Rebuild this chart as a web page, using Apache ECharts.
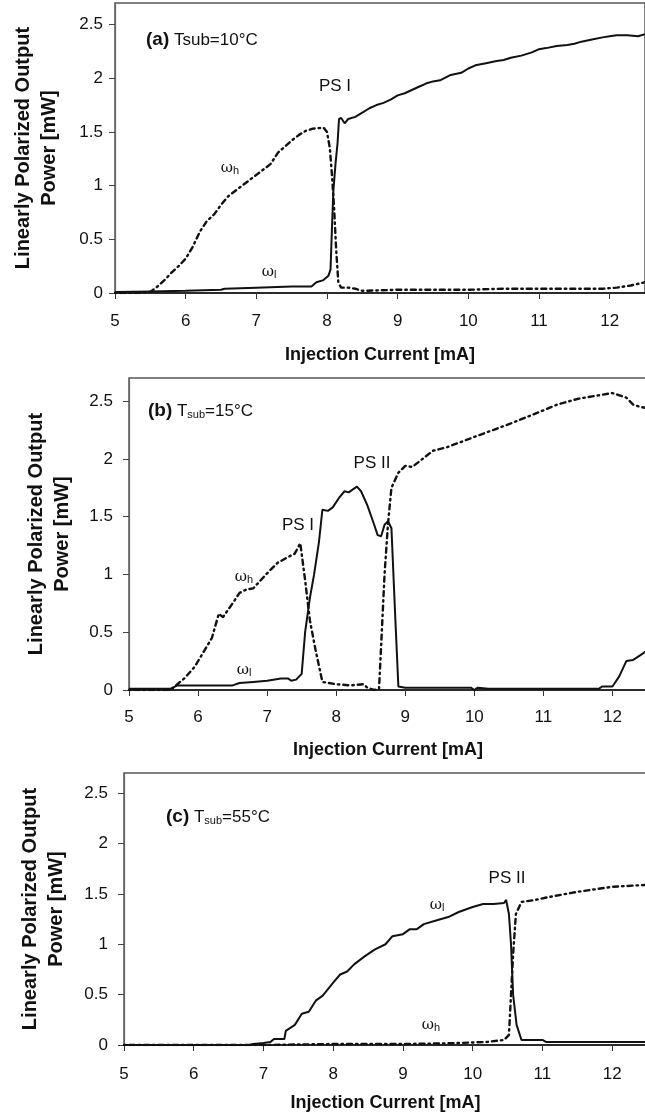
<!DOCTYPE html>
<html>
<head>
<meta charset="utf-8">
<script src="https://cdn.jsdelivr.net/npm/echarts@6/dist/echarts.min.js"></script>
<style>html,body{margin:0;padding:0;background:#fff;}#c{width:645px;height:1119px;}</style>
</head>
<body>
<div id="c"></div>
<script>
// ---- data ----
const xTicks = [5, 6, 7, 8, 9, 10, 11, 12];
const yTicks = [0, 0.5, 1, 1.5, 2, 2.5];
const xTitle = 'Injection Current [mA]';
const yTitle = 'Linearly Polarized Output\nPower [mW]';

// Panel (a) Tsub=10°C
const aOmegaL = [[5.0,0.01],[5.5,0.015],[6.0,0.02],[6.5,0.03],[6.55,0.04],[7.0,0.05],[7.5,0.06],[7.78,0.06],[7.85,0.1],[7.95,0.12],[8.02,0.16],[8.05,0.22],[8.07,0.6],[8.09,0.95],[8.12,1.2],[8.15,1.4],[8.17,1.62],[8.2,1.63],[8.25,1.58],[8.3,1.62],[8.4,1.64],[8.5,1.68],[8.6,1.72],[8.7,1.75],[8.8,1.77],[8.9,1.8],[9.0,1.84],[9.1,1.86],[9.2,1.89],[9.3,1.92],[9.4,1.95],[9.5,1.97],[9.6,1.98],[9.75,2.03],[9.9,2.05],[10.0,2.09],[10.1,2.12],[10.25,2.14],[10.4,2.16],[10.5,2.17],[10.6,2.19],[10.75,2.21],[10.9,2.24],[11.0,2.27],[11.1,2.28],[11.25,2.3],[11.4,2.31],[11.5,2.32],[11.6,2.34],[11.75,2.36],[11.9,2.38],[12.0,2.39],[12.1,2.4],[12.25,2.4],[12.4,2.39],[12.5,2.41]];
const aOmegaH = [[5.0,0.0],[5.3,0.0],[5.5,0.01],[5.6,0.06],[5.7,0.12],[5.8,0.19],[5.9,0.25],[6.0,0.32],[6.1,0.43],[6.2,0.57],[6.3,0.67],[6.4,0.73],[6.5,0.82],[6.6,0.9],[6.7,0.95],[6.8,1.0],[6.9,1.05],[7.0,1.1],[7.1,1.15],[7.2,1.2],[7.31,1.31],[7.4,1.36],[7.5,1.42],[7.6,1.47],[7.7,1.51],[7.8,1.53],[7.95,1.54],[8.0,1.5],[8.04,1.35],[8.07,1.1],[8.1,0.8],[8.13,0.4],[8.16,0.1],[8.2,0.05],[8.3,0.05],[8.4,0.04],[8.5,0.02],[9.0,0.03],[9.5,0.03],[10.0,0.03],[10.5,0.04],[11.0,0.04],[11.5,0.04],[11.9,0.04],[12.1,0.05],[12.3,0.07],[12.5,0.1]];

// Panel (b) Tsub=15°C
const bOmegaL = [[5.0,0.01],[5.6,0.01],[5.7,0.04],[6.0,0.04],[6.5,0.04],[6.6,0.06],[6.8,0.07],[7.0,0.08],[7.2,0.1],[7.3,0.1],[7.35,0.08],[7.42,0.09],[7.5,0.14],[7.55,0.5],[7.62,0.8],[7.68,1.0],[7.75,1.28],[7.8,1.56],[7.88,1.55],[7.95,1.58],[8.05,1.67],[8.12,1.72],[8.18,1.71],[8.3,1.76],[8.36,1.72],[8.45,1.6],[8.55,1.43],[8.6,1.34],[8.65,1.33],[8.7,1.43],[8.75,1.46],[8.8,1.4],[8.85,0.7],[8.9,0.03],[9.0,0.02],[9.5,0.02],[9.95,0.02],[10.0,0.0],[10.05,0.02],[10.2,0.01],[11.0,0.01],[11.8,0.01],[11.85,0.03],[12.0,0.03],[12.1,0.12],[12.2,0.25],[12.3,0.26],[12.4,0.3],[12.5,0.34]];
const bOmegaH = [[5.0,0.0],[5.6,0.0],[5.7,0.05],[5.8,0.1],[5.95,0.2],[6.1,0.35],[6.2,0.45],[6.3,0.66],[6.36,0.63],[6.5,0.75],[6.6,0.84],[6.7,0.87],[6.8,0.88],[7.0,1.01],[7.15,1.1],[7.3,1.15],[7.4,1.18],[7.48,1.27],[7.55,0.95],[7.62,0.6],[7.7,0.35],[7.8,0.07],[8.0,0.05],[8.2,0.04],[8.4,0.05],[8.45,0.02],[8.55,0.0],[8.62,0.01],[8.66,0.5],[8.7,1.0],[8.75,1.44],[8.8,1.75],[8.9,1.88],[9.0,1.94],[9.1,1.93],[9.25,2.0],[9.4,2.07],[9.6,2.1],[10.0,2.19],[10.5,2.3],[11.0,2.42],[11.2,2.47],[11.5,2.52],[11.8,2.55],[12.0,2.57],[12.2,2.53],[12.3,2.47],[12.4,2.45],[12.5,2.44]];

// Panel (c) Tsub=55°C
const cOmegaL = [[5.0,0.0],[6.8,0.0],[6.85,0.01],[7.0,0.02],[7.1,0.03],[7.15,0.06],[7.3,0.06],[7.32,0.14],[7.45,0.2],[7.55,0.31],[7.65,0.33],[7.75,0.44],[7.85,0.49],[8.0,0.62],[8.1,0.7],[8.2,0.73],[8.3,0.8],[8.45,0.88],[8.6,0.95],[8.75,1.0],[8.85,1.08],[9.0,1.1],[9.1,1.15],[9.2,1.15],[9.3,1.2],[9.5,1.24],[9.65,1.27],[9.8,1.32],[10.0,1.37],[10.15,1.4],[10.3,1.4],[10.45,1.41],[10.48,1.44],[10.52,1.3],[10.55,1.0],[10.58,0.5],[10.63,0.2],[10.7,0.05],[11.0,0.05],[11.05,0.03],[12.5,0.03]];
const cOmegaH = [[5.0,0.0],[7.0,0.0],[8.0,0.01],[9.0,0.01],[9.5,0.015],[9.8,0.02],[10.2,0.03],[10.45,0.05],[10.52,0.1],[10.55,0.5],[10.58,0.9],[10.62,1.3],[10.7,1.42],[10.9,1.44],[11.1,1.47],[11.5,1.52],[12.0,1.57],[12.5,1.59]];

const panelLabels = ['(a)', '(b)', '(c)'];
const panelTemps = ['10°C', '15°C', '55°C'];

// ---- layout / style ----
const FONT = '"Liberation Sans", Arial, Helvetica, sans-serif';
const grids = [
  {left: 115, top: 3,   width: 530, height: 290},
  {left: 129, top: 378, width: 518, height: 312},
  {left: 124, top: 773, width: 523, height: 272}
];
const xNameGap = [53, 51, 49];
const xLabelMargin = [20, 19, 21];
const yNameGap = [53, 54, 55];
const yLabelMargin = [12, 16, 16];

function xAxisFor(i) {
  return {
    type: 'value', gridIndex: i, min: xTicks[0], max: 12.5, interval: 1,
    name: xTitle, nameLocation: 'middle', nameGap: xNameGap[i],
    nameTextStyle: {fontFamily: FONT, fontWeight: 'bold', fontSize: 18, color: '#111'},
    axisLine: {show: true, onZero: false, lineStyle: {color: '#111', width: 1.5}},
    axisTick: {show: true, inside: false, length: 6, lineStyle: {color: '#333'}},
    axisLabel: {fontFamily: FONT, fontSize: 17, color: '#111', margin: xLabelMargin[i],
      showMaxLabel: false},
    splitLine: {show: false}
  };
}
function yAxisFor(i) {
  return {
    type: 'value', gridIndex: i, min: 0, max: 2.7, interval: 0.5,
    name: yTitle, nameLocation: 'middle', nameGap: yNameGap[i], nameRotate: 90,
    nameTextStyle: {fontFamily: FONT, fontWeight: 'bold', fontSize: 20, lineHeight: 26, color: '#111'},
    axisLine: {show: true, lineStyle: {color: '#666', width: 1.2}},
    axisTick: {show: true, inside: false, length: 6, lineStyle: {color: '#444'}},
    axisLabel: {fontFamily: FONT, fontSize: 17, color: '#111', margin: yLabelMargin[i],
      showMaxLabel: false},
    splitLine: {show: false}
  };
}
const solid = {color: '#111', width: 2, type: 'solid'};
const dotted = {color: '#111', width: 2.4, type: [1.5, 4, 5, 4], cap: 'round'};

function lineSeries(name, i, data, style) {
  return {name: name, type: 'line', xAxisIndex: i, yAxisIndex: i, data: data,
    showSymbol: false, symbol: 'none', lineStyle: style, animation: false, z: 3};
}

const series = [
  lineSeries('ωh (a)', 0, aOmegaH, dotted), lineSeries('ωl (a)', 0, aOmegaL, solid),
  lineSeries('ωh (b)', 1, bOmegaH, dotted), lineSeries('ωl (b)', 1, bOmegaL, solid),
  lineSeries('ωh (c)', 2, cOmegaH, dotted), lineSeries('ωl (c)', 2, cOmegaL, solid)
];

const rich = {
  p: {fontFamily: FONT, fontWeight: 'bold', fontSize: 19, fill: '#111'},
  t: {fontFamily: FONT, fontSize: 17, fill: '#111'},
  s: {fontFamily: FONT, fontSize: 11, fill: '#111', padding: [8, 0, 0, 0]},
  w: {fontFamily: '"DejaVu Serif", serif', fontSize: 15, fill: '#111'},
  ws: {fontFamily: FONT, fontSize: 11, fill: '#111', padding: [6, 0, 0, 0]}
};
function txt(x, y, text, opts) {
  return {type: 'text', x: x, y: y, z: 10,
    style: Object.assign({text: text, rich: rich, fontFamily: FONT, fontSize: 17, fill: '#111',
      textAlign: 'center', textVerticalAlign: 'middle'}, opts || {})};
}
const graphics = [
  txt(146, 40, '{p|' + panelLabels[0] + '} {t|Tsub=' + panelTemps[0] + '}', {textAlign: 'left'}),
  txt(148, 411, '{p|' + panelLabels[1] + '} {t|T}{s|sub}{t|=' + panelTemps[1] + '}', {textAlign: 'left'}),
  txt(166, 817, '{p|' + panelLabels[2] + '} {t|T}{s|sub}{t|=' + panelTemps[2] + '}', {textAlign: 'left'}),
  txt(335, 86, 'PS I'),
  txt(230, 168, '{w|ω}{ws|h}'),
  txt(269, 272, '{w|ω}{ws|l}'),
  txt(372, 463, 'PS II'),
  txt(298, 525, 'PS I'),
  txt(244, 577, '{w|ω}{ws|h}'),
  txt(244, 670, '{w|ω}{ws|l}'),
  txt(507, 878, 'PS II'),
  txt(437, 905, '{w|ω}{ws|l}'),
  txt(431, 1025, '{w|ω}{ws|h}')
];

const chart = echarts.init(document.getElementById('c'), null, {renderer: 'canvas'});
chart.setOption({
  backgroundColor: '#fff',
  animation: false,
  grid: grids.map(g => Object.assign({show: true, borderColor: '#555', borderWidth: 1.5,
    backgroundColor: '#fff', containLabel: false, outerBoundsMode: 'none'}, g)),
  xAxis: [0, 1, 2].map(xAxisFor),
  yAxis: [0, 1, 2].map(yAxisFor),
  series: series,
  graphic: graphics
});
</script>
</body>
</html>
